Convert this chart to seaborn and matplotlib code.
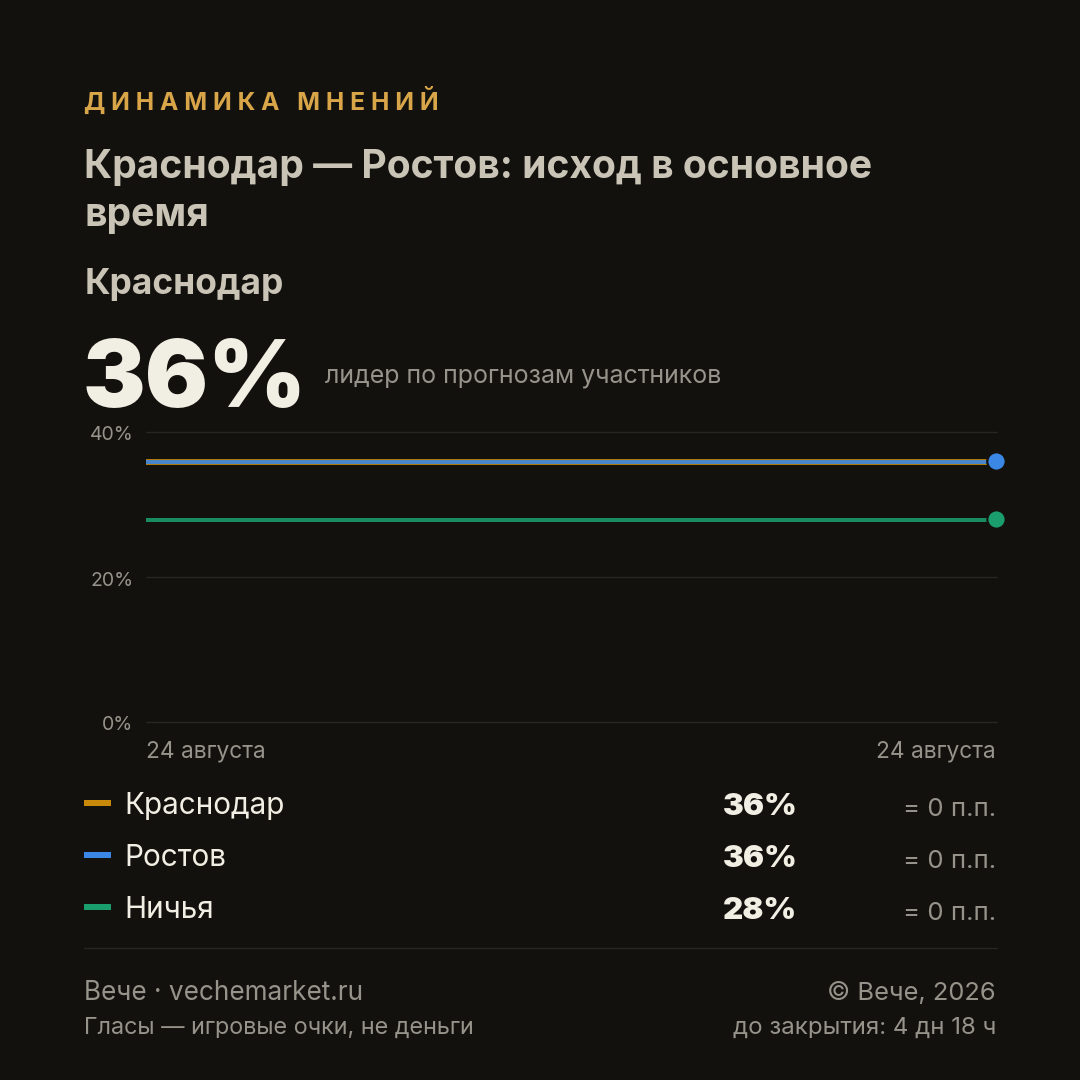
import matplotlib
matplotlib.use("Agg")
import matplotlib.pyplot as plt
import matplotlib.transforms as mtrans
import seaborn as sns
import pandas as pd
from matplotlib.patches import Rectangle
from matplotlib.lines import Line2D

outcomes = ["Краснодар", "Ростов", "Ничья"]
start_values = [36, 36, 28]
end_values = [36, 36, 28]
changes = ["= 0 п.п.", "= 0 п.п.", "= 0 п.п."]
colors = ["#c98a0c", "#3b87e6", "#1a9e6e"]
line_widths = [4.3, 2.88, 2.88]
y_ticks = [0, 20, 40]
x_labels = ["24 августа", "24 августа"]

BG = "#12110e"
sns.set_theme(style="dark")
plt.rcParams["font.family"] = ["Inter", "Roboto", "DejaVu Sans"]

fig = plt.figure(figsize=(10.8, 10.8), dpi=100, facecolor=BG)
W = 1080.0
def T(x, y, s, size, color, weight="normal", ha="left", va="baseline", **kw):
    return fig.text(x / W, 1 - y / W, s, fontsize=size, color=color, fontweight=weight, ha=ha, va=va, **kw)

ax = fig.add_axes([146 / W, 1 - 722 / W, (997 - 146) / W, 290 / W], facecolor=BG)
rows = []
for name, a, b in zip(outcomes, start_values, end_values):
    rows.append({"o": name, "x": 0, "y": a})
    rows.append({"o": name, "x": 1, "y": b})
df = pd.DataFrame(rows)
sns.lineplot(data=df, x="x", y="y", hue="o", hue_order=outcomes, palette=colors, legend=False, ax=ax, zorder=3, alpha=0.88)
shift = mtrans.offset_copy(ax.transData, fig=fig, x=0, y=-1, units="dots")
for ln, lw in zip(ax.lines, line_widths):
    ln.set_linewidth(lw)
    ln.set_solid_capstyle("butt")
    ln.set_snap(False)
    ln.set_transform(shift)
for name, v, c in zip(outcomes, end_values, colors):
    ax.scatter([0.9992], [v], s=172, color=c, edgecolor=BG, linewidth=1.44, zorder=5, clip_on=False)
ax.set_xlim(0, 1)
ax.set_ylim(0, 40)
ax.set_yticks(y_ticks)
ax.set_yticklabels([])
ax.set_xticks([])
ax.set_xlabel("")
ax.set_ylabel("")
ax.grid(axis="y", color="#272623", linewidth=1)
for g in ax.get_ygridlines():
    g.set_clip_on(False)
ax.grid(axis="x", visible=False)
for s in ax.spines.values():
    s.set_visible(False)
ax.tick_params(length=0)

muted = "#96938a"
for v, y in zip(y_ticks, [730.5, 585.5, 440.5]):
    T(133.5, y, f"{v}%", 14, muted, ha="right")
T(145.5, 758, x_labels[0], 16.4, muted)
T(996, 758, x_labels[1], 16.4, muted, ha="right")

T(84, 110, "Д И Н А М И К А   М Н Е Н И Й", 17.7, "#d8a548", weight="bold")
T(84.5, 178.5, "Краснодар — Ростов: исход в основное", 28.1, "#c9c4b6", weight="bold")
T(84.5, 226.5, "время", 28.1, "#c9c4b6", weight="bold")
T(84.5, 294, "Краснодар", 25.5, "#c9c4b6", weight="bold")
T(83, 407, "36%", 67.5, "#f1eee3", weight="black")
T(325, 383, "лидер по прогнозам участников", 18, muted)

for i, (name, v, ch, c) in enumerate(zip(outcomes, end_values, changes, colors)):
    y = 814 + 52 * i
    fig.add_artist(Rectangle((84 / W, 1 - (y - 8) / W), 27 / W, 6 / W, transform=fig.transFigure, color=c, lw=0))
    T(124, y, name, 21.4, "#f1eee3")
    T(797.5, y + 1, f"{v}%", 22.5, "#f1eee3", weight="black", ha="right")
    T(996, y + 2, ch, 18.6, muted, ha="right")

fig.add_artist(Line2D([84 / W, 997 / W], [1 - 948 / W] * 2, color="#272623", lw=1, transform=fig.transFigure))
T(84.5, 1000, "Вече · vechemarket.ru", 18.85, muted)
T(84, 1034, "Гласы — игровые очки, не деньги", 16.85, muted)
T(996, 1000, "© Вече, 2026", 18.3, muted, ha="right")
T(996, 1034, "до закрытия: 4 дн 18 ч", 17.3, muted, ha="right")

fig.savefig("out.png", dpi=100, facecolor=BG)
